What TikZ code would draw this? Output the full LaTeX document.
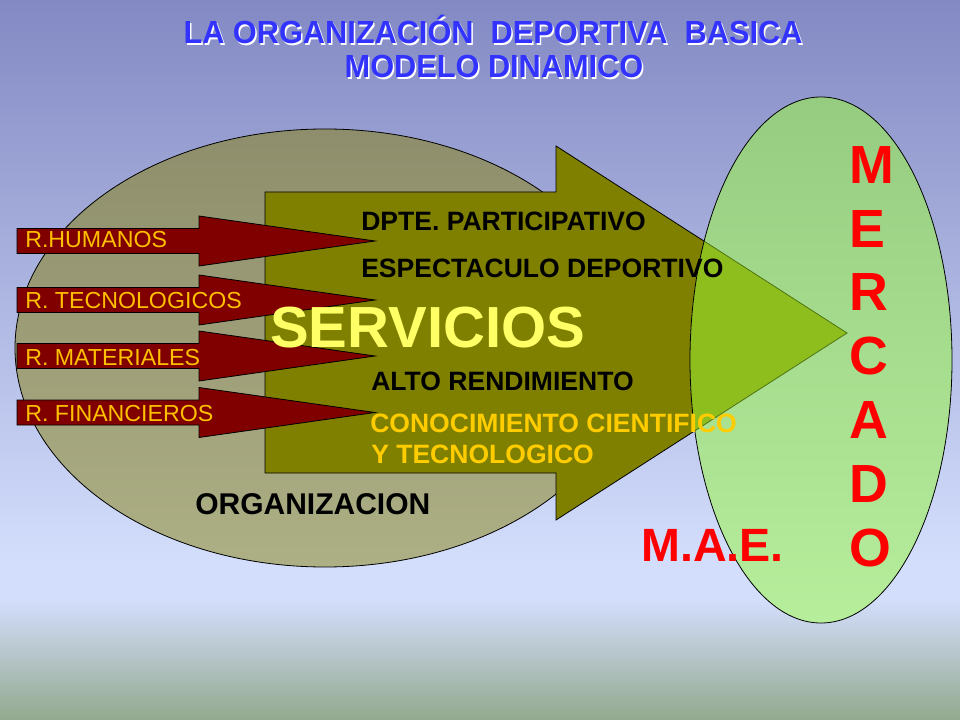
\documentclass[tikz,border=0pt]{standalone}
\usepackage{fontspec}
\setmainfont{Liberation Sans}
\newfontfamily\titulofont[FakeStretch=0.96]{Liberation Sans}
\usetikzlibrary{shapes.geometric}

\definecolor{fondoarriba}{HTML}{8389C3}
\definecolor{fondomedio}{HTML}{D3DEFC}
\definecolor{fondoabajo}{HTML}{93A98E}
\definecolor{orgarriba}{HTML}{8E8E6C}
\definecolor{orgabajo}{HTML}{ADAF84}
\definecolor{mercarriba}{HTML}{96CC80}
\definecolor{mercabajo}{HTML}{B6EE9C}
\definecolor{oliva}{HTML}{808000}
\definecolor{cruce}{HTML}{8DBE1E}
\definecolor{cruceborde}{HTML}{4E7410}
\definecolor{granate}{HTML}{800000}
\definecolor{oro}{HTML}{FFC000}
\definecolor{amarillo}{HTML}{FFFF66}
\definecolor{dorado}{HTML}{FFCC00}
\definecolor{azultitulo}{HTML}{3333FF}

\begin{document}
\begin{tikzpicture}[x=0.75pt, y=-0.75pt]
\tikzstyle{texto} = [anchor=base west, inner sep=0]
\tikzstyle{titulo} = [anchor=base, inner sep=0, font=\titulofont\bfseries\fontsize{24}{28}\selectfont]
\tikzstyle{recurso} = [fill=granate, draw=black, line width=0.6pt]
\tikzstyle{etiqueta} = [texto, text=oro, font=\fontsize{17.4}{20}\selectfont]
\tikzstyle{servicio} = [texto, font=\bfseries\fontsize{19.9}{24}\selectfont]
\useasboundingbox (0,0) rectangle (960,720);
% fondo
\shade[top color=fondoarriba, bottom color=fondomedio] (0,0) rectangle (960,561);
\fill[fondomedio] (0,560) rectangle (960,601);
\shade[top color=fondomedio, bottom color=fondoabajo] (0,600) rectangle (960,720);
% titulo
\node[titulo, white] at (494.5,45.5) {LA ORGANIZACIÓN\ \ DEPORTIVA\ \ BASICA};
\node[titulo, text=azultitulo] (titulo1) at (493,44) {LA ORGANIZACIÓN\ \ DEPORTIVA\ \ BASICA};
\node[titulo, white] at (495.5,79.5) {MODELO DINAMICO};
\node[titulo, text=azultitulo] (titulo2) at (494,78) {MODELO DINAMICO};
% organizacion
\node[ellipse, draw=black, line width=0.6pt, top color=orgarriba, bottom color=orgabajo,
  minimum width=465pt, minimum height=328.5pt, inner sep=0] (org) at (325,348) {};
% flecha de servicios
\draw[fill=oliva, line width=0.6pt] (265,192) -- (556,192) -- (556,146) -- (847,333)
  -- (556,520) -- (556,473) -- (265,473) -- cycle;
% mercado
\node[ellipse, top color=mercarriba, bottom color=mercabajo,
  minimum width=196.5pt, minimum height=394.5pt, inner sep=0] (mercado) at (821,360) {};
\begin{scope}
\clip (mercado.center) ellipse [x radius=131, y radius=263];
\draw[fill=cruce, draw=cruceborde, line width=0.6pt] (265,192) -- (556,192) -- (556,146)
  -- (847,333) -- (556,520) -- (556,473) -- (265,473) -- cycle;
\end{scope}
\draw[line width=0.6pt] (mercado.center) ellipse [x radius=131, y radius=263];
% recursos
\draw[recurso] (17,228.5) -- (199,228.5) -- (199,216) -- (375,241) -- (199,266) -- (199,253.5) -- (17,253.5) -- cycle;
\draw[recurso] (17,287.5) -- (199,287.5) -- (199,275) -- (375,300) -- (199,325) -- (199,312.5) -- (17,312.5) -- cycle;
\draw[recurso] (17,343.5) -- (199,343.5) -- (199,331) -- (375,356) -- (199,381) -- (199,368.5) -- (17,368.5) -- cycle;
\draw[recurso] (17,400) -- (199,400) -- (199,387.5) -- (375,412.5) -- (199,437.5) -- (199,425) -- (17,425) -- cycle;
\node[etiqueta] (humanos) at (25,248) {R.HUMANOS};
\node[etiqueta] (tecnologicos) at (25,308) {R. TECNOLOGICOS};
\node[etiqueta] (materiales) at (25,365) {R. MATERIALES};
\node[etiqueta] (financieros) at (25,421) {R. FINANCIEROS};
% textos de la flecha
\node[servicio] (participativo) at (361,231) {DPTE. PARTICIPATIVO};
\node[servicio] (espectaculo) at (361,278) {ESPECTACULO DEPORTIVO};
\node[texto, text=amarillo, font=\bfseries\fontsize{43.5}{50}\selectfont] (servicios) at (270,347) {SERVICIOS};
\node[servicio] (rendimiento) at (371,390) {ALTO RENDIMIENTO};
\node[servicio, text=dorado] (conocimiento) at (370,432) {CONOCIMIENTO CIENTIFICO};
\node[servicio, text=dorado] (tecnologico) at (371,463) {Y TECNOLOGICO};
\node[texto, font=\bfseries\fontsize{22.5}{26}\selectfont] (organizacion) at (195,514) {ORGANIZACION};
\node[texto, text=red, font=\bfseries\fontsize{35}{40}\selectfont] (mae) at (641,561) {M.A.E.};
\node[anchor=north west, inner sep=0, align=left, text=red,
  font=\bfseries\fontsize{40.3}{47.9}\selectfont] (mercadotexto) at (849,146) {M\\E\\R\\C\\A\\D\\O};
\end{tikzpicture}
\end{document}
